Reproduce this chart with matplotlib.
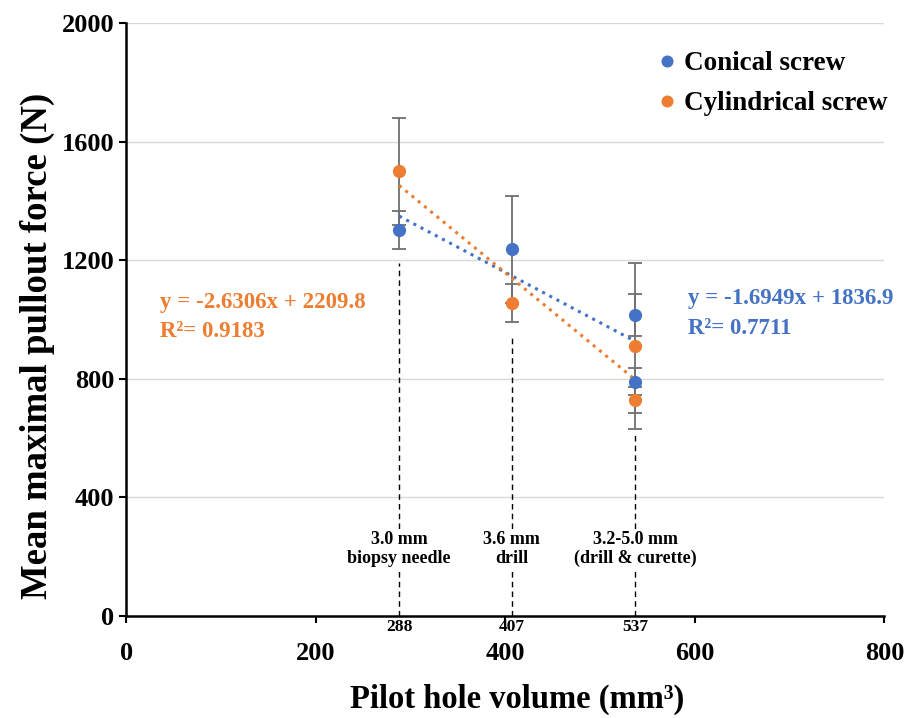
import matplotlib
matplotlib.use("Agg")
import matplotlib.pyplot as plt
import numpy as np

plt.rcParams['font.family'] = ['Liberation Serif', 'DejaVu Serif']
plt.rcParams['font.weight'] = 'bold'

BLUE = '#4472C4'
ORANGE = '#ED7D31'

# pilot hole volumes (mm3)
x_conical = [288, 407, 537, 537]
y_conical = [1302, 1237, 1015, 790]
err_conical = [63, 180, 70, 45]

x_cyl = [288, 407, 537, 537]
y_cyl = [1500, 1057, 911, 729]
err_cyl = [180, 64, 280, 43]

# trendlines as printed on the chart
fit_conical = (-1.6949, 1836.9)
fit_cyl = (-2.6306, 2209.8)
fit_range = [288, 537]

hole_x = [288, 407, 537]
hole_top = [1190, 947, 610]
hole_labels = ['3.0 mm\nbiopsy needle', '3.6 mm\ndrill', '3.2-5.0 mm\n(drill & curette)']

fig = plt.figure(figsize=(9.08, 7.18), dpi=100)
ax = fig.add_axes([0.139, 0.142, 0.835, 0.826])

ax.set_xlim(0, 800)
ax.set_ylim(0, 2000)
ax.set_yticks([0, 400, 800, 1200, 1600, 2000])
ax.set_xticks([0, 200, 400, 600, 800])
ax.set_xticks(hole_x, minor=True)
ax.set_xticklabels([str(v) for v in hole_x], minor=True, fontsize=12.5, fontweight='bold')
ax.tick_params(axis='x', which='major', labelsize=19, pad=14, length=5, width=1.5)
ax.tick_params(axis='x', which='minor', pad=2, length=0)
ax.tick_params(axis='y', labelsize=19, length=5, width=1.5)
for lab in ax.get_xticklabels() + ax.get_yticklabels():
    lab.set_fontweight('bold')

ax.grid(axis='y', color='#d9d9d9', lw=1)
ax.set_axisbelow(True)
for s in ['top', 'right']:
    ax.spines[s].set_visible(False)
for s in ['left', 'bottom']:
    ax.spines[s].set_linewidth(1.8)

# vertical guide lines with hole labels
for hx, ht, hl in zip(hole_x, hole_top, hole_labels):
    ax.plot([hx, hx], [0, ht], ls=(0, (4, 3)), color='black', lw=1, zorder=1)
    ax.text(hx, 226, hl, ha='center', va='center', fontsize=13, fontweight='bold',
            linespacing=1.1, bbox=dict(facecolor='white', edgecolor='none', pad=1))

# error bars
ax.errorbar(x_conical, y_conical, yerr=err_conical, fmt='none', ecolor='#707070',
            elinewidth=1.3, capsize=5, capthick=1.3, zorder=2)
ax.errorbar(x_cyl, y_cyl, yerr=err_cyl, fmt='none', ecolor='#707070',
            elinewidth=1.3, capsize=5, capthick=1.3, zorder=2)

# trendlines
fx = np.array(fit_range)
ax.plot(fx, fit_conical[0] * fx + fit_conical[1], ls=':', color=BLUE, lw=2.2, zorder=3)
ax.plot(fx, fit_cyl[0] * fx + fit_cyl[1], ls=':', color=ORANGE, lw=2.2, zorder=3)

# points
ax.plot(x_conical, y_conical, 'o', color=BLUE, ms=8.5, zorder=4, label='Conical screw')
ax.plot(x_cyl, y_cyl, 'o', color=ORANGE, ms=8.5, zorder=4, label='Cylindrical screw')

leg = ax.legend(loc='upper right', bbox_to_anchor=(1.025, 0.98), frameon=False,
                prop=dict(size=19.5, weight='bold'), handlelength=0.6, handletextpad=0.3,
                markerscale=0.9, labelspacing=0.55, borderaxespad=0.2)

ax.text(36, 1059, 'y = -2.6306x + 2209.8', color=ORANGE, fontsize=16.5, fontweight='bold', va='center')
ax.text(36, 958, 'R²= 0.9183', color=ORANGE, fontsize=16.5, fontweight='bold', va='center')
ax.text(593, 1072, 'y = -1.6949x + 1836.9', color=BLUE, fontsize=16.5, fontweight='bold', va='center')
ax.text(593, 968, 'R²= 0.7711', color=BLUE, fontsize=16.5, fontweight='bold', va='center')

ax.set_ylabel('Mean maximal pullout force (N)', fontsize=26.5, fontweight='bold', labelpad=5)
ax.set_xlabel('Pilot hole volume (mm³)', fontsize=23.5, fontweight='bold', labelpad=13)
ax.yaxis.label.set_y(0.455)
ax.xaxis.label.set_x(0.515)

fig.savefig('out.png', dpi=100)
